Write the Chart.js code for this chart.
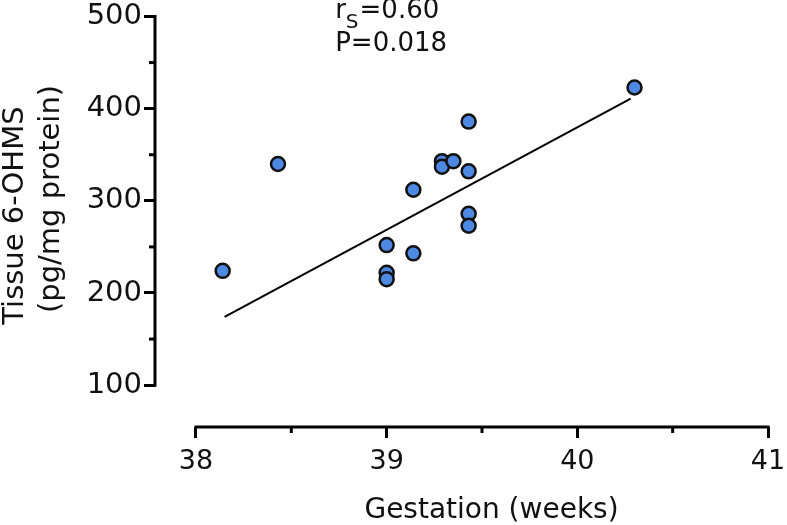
<!DOCTYPE html>
<html>
<head>
<meta charset="utf-8">
<script src="https://cdn.jsdelivr.net/npm/chart.js@4"></script>
<style>
  html, body { margin: 0; padding: 0; background: #fff; }
  #wrap { width: 787px; height: 525px; }
</style>
</head>
<body>
<div id="wrap"><canvas id="myChart"></canvas></div>
<script>
// data
const gestation = [38.14, 38.43, 39.0, 39.0, 39.0, 39.14, 39.14, 39.29, 39.29, 39.35, 39.43, 39.43, 39.43, 39.43, 40.3]
const ohms = [224, 340, 252, 222, 215, 312, 243, 343, 337, 343, 386, 332, 286, 273, 423]
const fitX = [38.15, 40.28]
const fitY = [174, 411]
const xTicks = [38, 39, 40, 41]
const yTicks = [100, 200, 300, 400, 500]
const xMinor = [38.5, 39.5, 40.5]
const yMinor = [150, 250, 350, 450]
const xTitle = "Gestation (weeks)"
const yTitle = ["Tissue 6-OHMS", "(pg/mg protein)"]
const statLines = ["=0.60", "P=0.018"]

const FONT = "'DejaVu Sans', Verdana, sans-serif"

// GraphPad style detached axes and titles, placed through the scales
const axesPlugin = {
    id: "axes",
    afterDraw(chart) {
        const ctx = chart.ctx
        const x = chart.scales.x
        const y = chart.scales.y
        const area = chart.chartArea
        ctx.save()
        ctx.strokeStyle = "#000"
        ctx.lineWidth = 3
        ctx.lineCap = "butt"
        // y axis
        ctx.beginPath()
        ctx.moveTo(area.left, y.getPixelForValue(yTicks[0]) + 1.5)
        ctx.lineTo(area.left, y.getPixelForValue(yTicks[yTicks.length - 1]) - 1.5)
        ctx.stroke()
        yMinor.forEach((v) => {
            const py = y.getPixelForValue(v)
            ctx.beginPath()
            ctx.moveTo(area.left - 6, py)
            ctx.lineTo(area.left, py)
            ctx.stroke()
        })
        // x axis
        ctx.beginPath()
        ctx.moveTo(x.getPixelForValue(xTicks[0]) - 1.5, area.bottom)
        ctx.lineTo(x.getPixelForValue(xTicks[xTicks.length - 1]) + 1.5, area.bottom)
        ctx.stroke()
        xMinor.forEach((v) => {
            const px = x.getPixelForValue(v)
            ctx.beginPath()
            ctx.moveTo(px, area.bottom)
            ctx.lineTo(px, area.bottom + 6)
            ctx.stroke()
        })

        ctx.fillStyle = "#111"
        // x title
        ctx.textAlign = "center"
        ctx.textBaseline = "middle"
        ctx.font = "28px " + FONT
        ctx.fillText(xTitle, x.getPixelForValue(39.55), area.bottom + 84)

        // y title, two rotated lines
        ctx.font = "29px " + FONT
        ctx.save()
        ctx.translate(15, y.getPixelForValue(284))
        ctx.rotate(-Math.PI / 2)
        ctx.fillText(yTitle[0], 0, 0)
        ctx.restore()
        ctx.save()
        ctx.translate(51, y.getPixelForValue(302))
        ctx.rotate(-Math.PI / 2)
        ctx.fillText(yTitle[1], 0, 0)
        ctx.restore()

        // statistics text
        const tx = x.getPixelForValue(38.73)
        const ty = y.getPixelForValue(498)
        ctx.textBaseline = "alphabetic"
        ctx.textAlign = "left"
        ctx.font = "26px " + FONT
        ctx.fillText("r", tx, ty)
        let cx = tx + ctx.measureText("r").width
        ctx.font = "20px " + FONT
        ctx.fillText("S", cx, ty + 10)
        cx += ctx.measureText("S").width + 1
        ctx.font = "26px " + FONT
        ctx.fillText(statLines[0], cx, ty)
        ctx.fillText(statLines[1], tx, ty + 33)
        ctx.restore()
    }
}

const config = {
    type: "scatter",
    data: {
        datasets: [
            {
                label: "Tissue 6-OHMS",
                data: gestation.map((g, i) => ({x: g, y: ohms[i]})),
                backgroundColor: "#4d88e3",
                borderColor: "#111",
                borderWidth: 2.5,
                pointRadius: 7,
                order: 1
            },
            {
                type: "line",
                label: "fit",
                data: fitX.map((g, i) => ({x: g, y: fitY[i]})),
                borderColor: "#000",
                borderWidth: 2,
                pointRadius: 0,
                fill: false,
                order: 2
            }
        ]
    },
    options: {
        responsive: true,
        maintainAspectRatio: false,
        animation: false,
        layout: {padding: {top: 15, right: 19, bottom: 0, left: 0}},
        plugins: {
            legend: {display: false},
            tooltip: {enabled: false}
        },
        scales: {
            x: {
                type: "linear",
                min: 37.785,
                max: 41,
                afterBuildTicks: (s) => { s.ticks = xTicks.map((v) => ({value: v})) },
                afterFit: (s) => { s.height = 98 },
                border: {display: false},
                grid: {drawOnChartArea: false, tickLength: 11, tickWidth: 3, tickColor: "#000"},
                ticks: {
                    color: "#111",
                    padding: 0,
                    maxRotation: 0,
                    autoSkip: false,
                    font: {family: FONT, size: 27, lineHeight: 1.78}
                }
            },
            y: {
                min: 54.6,
                max: 500,
                afterBuildTicks: (s) => { s.ticks = yTicks.map((v) => ({value: v})) },
                afterFit: (s) => { s.width = 155 },
                border: {display: false},
                grid: {drawOnChartArea: false, tickLength: 11, tickWidth: 3, tickColor: "#000"},
                ticks: {
                    color: "#111",
                    padding: 2,
                    autoSkip: false,
                    font: {family: FONT, size: 29, lineHeight: 1}
                }
            }
        }
    },
    plugins: [axesPlugin]
}

const myChart = new Chart(document.getElementById("myChart"), config)
</script>
</body>
</html>
